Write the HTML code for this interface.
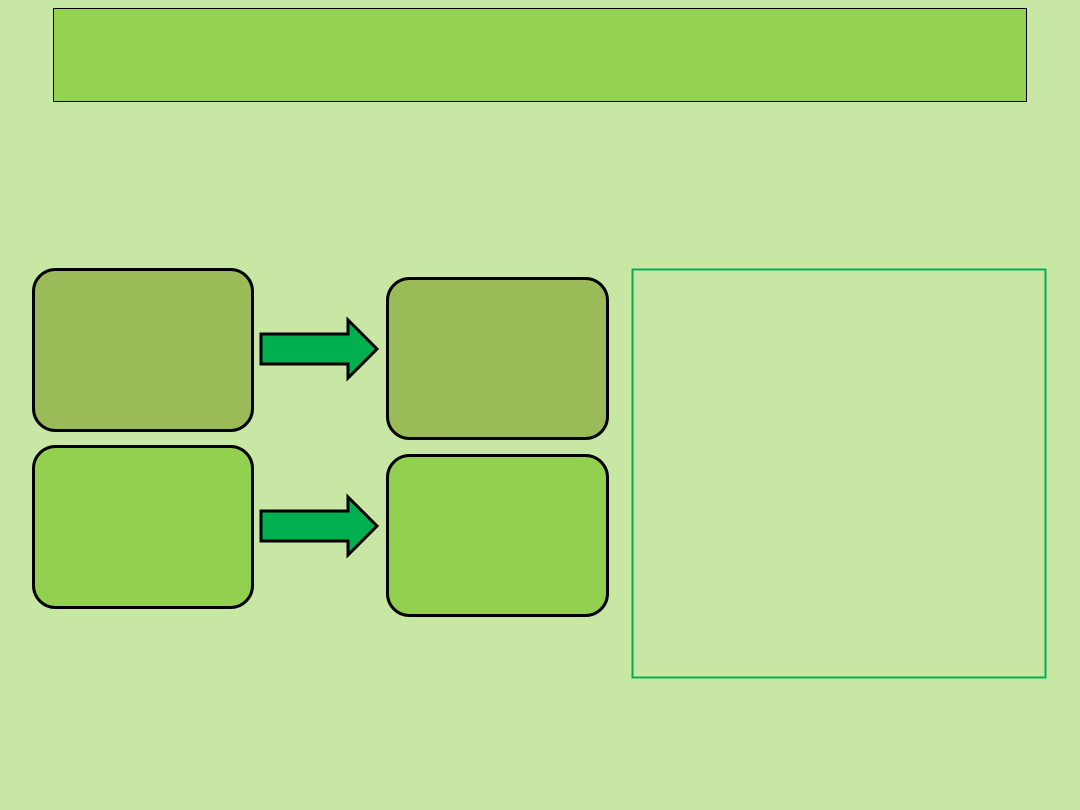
<!DOCTYPE html>
<html><head><meta charset="utf-8"><style>
html,body{margin:0;padding:0;width:1080px;height:810px;overflow:hidden;background:#c8e7a5;}
</style></head><body>
<svg width="1080" height="810" xmlns="http://www.w3.org/2000/svg">
<rect width="1080" height="810" fill="#c8e7a5"/>
<rect x="53.5" y="8.5" width="973" height="93" fill="#94d352" stroke="#000" stroke-width="1"/>
<rect x="33.5" y="269.5" width="219" height="161" rx="22" fill="#9bbb59" stroke="#000" stroke-width="3"/>
<rect x="33.5" y="446.5" width="219" height="161" rx="22" fill="#92d050" stroke="#000" stroke-width="3"/>
<rect x="387.5" y="278.5" width="220" height="160" rx="22" fill="#9bbb59" stroke="#000" stroke-width="3"/>
<rect x="387.5" y="455.5" width="220" height="160" rx="22" fill="#92d050" stroke="#000" stroke-width="3"/>
<polygon points="261,334 348,334 348,320 377,349 348,378 348,364 261,364" fill="#00b050" stroke="#000" stroke-width="3" stroke-linejoin="miter"/>
<polygon points="261,511 348,511 348,497 377,526 348,555 348,541 261,541" fill="#00b050" stroke="#000" stroke-width="3" stroke-linejoin="miter"/>
<rect x="632.5" y="269.5" width="413" height="408" fill="none" stroke="#00b050" stroke-width="2"/>
</svg>
</body></html>
